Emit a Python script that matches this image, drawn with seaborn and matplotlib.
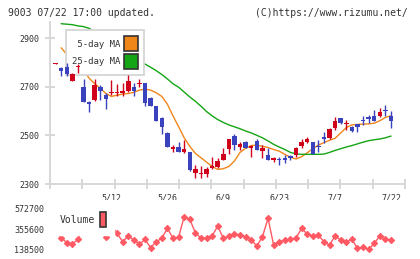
import matplotlib
matplotlib.use('Agg')
import matplotlib.pyplot as plt
from matplotlib.patches import Patch
import numpy as np
import pandas as pd
import seaborn as sns

sns.set_theme(style='white')
plt.rcParams['font.family'] = ['DejaVu Sans Mono', 'DejaVu Sans']

# trading days shown on the chart
dates = ['4/23', '4/24', '4/25', '4/28', '4/30', '5/1', '5/2', '5/7', '5/8', '5/9',
         '5/12', '5/13', '5/14', '5/15', '5/16', '5/19', '5/20', '5/21', '5/22', '5/23',
         '5/26', '5/27', '5/28', '5/29', '5/30', '6/2', '6/3', '6/4', '6/5', '6/6',
         '6/9', '6/10', '6/11', '6/12', '6/13', '6/16', '6/17', '6/18', '6/19', '6/20',
         '6/23', '6/24', '6/25', '6/26', '6/27', '6/30', '7/1', '7/2', '7/3', '7/4',
         '7/7', '7/8', '7/9', '7/10', '7/11', '7/14', '7/15', '7/16', '7/17', '7/18',
         '7/22']
tick_labels = ['5/12', '5/26', '6/9', '6/23', '7/7', '7/22']

opens = [2794, 2776, 2782, 2725, 2780, 2700, 2638, 2645, 2700, 2666,
         2673, 2673, 2674, 2682, 2700, 2710, 2714, 2652, 2621, 2573,
         2511, 2445, 2451, 2433, 2431, 2347, 2343, 2340, 2365, 2369,
         2399, 2443, 2497, 2454, 2474, 2448, 2478, 2435, 2420, 2398,
         2404, 2408, 2415, 2420, 2458, 2473, 2473, 2456, 2495, 2491,
         2532, 2570, 2546, 2533, 2546, 2561, 2574, 2580, 2580, 2602,
         2580]
highs = [2797, 2782, 2799, 2756, 2793, 2730, 2640, 2730, 2707, 2673,
         2727, 2710, 2714, 2748, 2714, 2730, 2716, 2659, 2622, 2576,
         2512, 2461, 2474, 2481, 2433, 2380, 2374, 2371, 2413, 2406,
         2447, 2485, 2506, 2474, 2476, 2461, 2485, 2461, 2449, 2410,
         2410, 2420, 2420, 2453, 2485, 2495, 2474, 2481, 2515, 2530,
         2577, 2572, 2563, 2537, 2546, 2580, 2582, 2604, 2611, 2625,
         2600]
lows = [2794, 2745, 2745, 2722, 2755, 2636, 2597, 2643, 2645, 2608,
        2665, 2660, 2662, 2680, 2660, 2697, 2621, 2620, 2558, 2506,
        2452, 2433, 2431, 2429, 2354, 2324, 2324, 2328, 2361, 2365,
        2399, 2424, 2440, 2440, 2446, 2410, 2438, 2406, 2397, 2392,
        2380, 2388, 2400, 2410, 2447, 2468, 2424, 2433, 2467, 2485,
        2522, 2548, 2522, 2515, 2515, 2543, 2550, 2557, 2576, 2580,
        2532]
closes = [2797, 2766, 2751, 2752, 2785, 2639, 2630, 2707, 2684, 2648,
          2679, 2680, 2681, 2723, 2684, 2714, 2632, 2622, 2560, 2536,
          2454, 2451, 2433, 2443, 2358, 2361, 2345, 2360, 2374, 2396,
          2424, 2485, 2462, 2465, 2448, 2455, 2440, 2446, 2399, 2408,
          2398, 2398, 2408, 2447, 2473, 2486, 2424, 2451, 2486, 2526,
          2560, 2552, 2548, 2519, 2536, 2559, 2566, 2560, 2597, 2600,
          2560]

ma5 = [np.nan, 2860, 2833, 2810, 2790, 2765, 2735, 2712, 2693, 2672,
       2660, 2665, 2670, 2672, 2677, 2686, 2690, 2686, 2675, 2660,
       2628, 2580, 2536, 2490, 2455, 2426, 2408, 2390, 2372, 2360,
       2363, 2372, 2395, 2430, 2447, 2458, 2460, 2455, 2450, 2442,
       2435, 2422, 2410, 2403, 2412, 2428, 2445, 2460, 2470, 2480,
       2488, 2510, 2532, 2543, 2545, 2546, 2547, 2550, 2560, 2574,
       2580]
ma25 = [np.nan, 2959, 2957, 2955, 2950, 2947, 2940, 2925, 2910, 2893,
        2875, 2860, 2845, 2830, 2818, 2805, 2793, 2780, 2766, 2750,
        2732, 2712, 2698, 2678, 2658, 2640, 2620, 2598, 2580, 2565,
        2553, 2543, 2535, 2527, 2518, 2510, 2500, 2490, 2477, 2463,
        2452, 2442, 2430, 2424, 2422, 2422, 2422, 2422, 2423, 2430,
        2438, 2445, 2452, 2458, 2465, 2472, 2478, 2482, 2485, 2490,
        2497]

volume = [330000, 268000, 213000, 199000, 249000, 380000, 420000, 390000, 350000, 272000,
          400000, 313000, 224000, 285000, 242000, 196000, 249000, 160000, 224000, 260000,
          367000, 260000, 271000, 491000, 463000, 320000, 260000, 260000, 285000, 391000,
          260000, 285000, 306000, 295000, 277000, 242000, 178000, 277000, 473000, 189000,
          224000, 242000, 249000, 260000, 367000, 306000, 285000, 295000, 224000, 189000,
          285000, 242000, 224000, 249000, 153000, 164000, 143000, 207000, 285000, 249000,
          242000]

RED = '#d0021b'
BLUE = '#3a43bd'
ORANGE = '#f0861a'
GREEN = '#14a514'
VOLC = '#ff5a64'
GRID = '#d6d6d6'
TXT = '#333333'

df = pd.DataFrame({'date': dates, 'open': opens, 'high': highs, 'low': lows,
                   'close': closes, 'ma5': ma5, 'ma25': ma25, 'volume': volume})
df['i'] = np.arange(len(df))
up = df['close'] >= df['open']
colors = np.where(up, RED, BLUE)

W, H = 420, 259
fig = plt.figure(figsize=(W / 100, H / 100), dpi=100)
ax = fig.add_axes([50 / W, (H - 184) / H, 355 / W, 162 / H])
axv = fig.add_axes([50 / W, (H - 256) / H, 355 / W, 56 / H])

# moving averages
sns.lineplot(data=df, x='i', y='ma5', color=ORANGE, lw=1, ax=ax, zorder=2)
sns.lineplot(data=df, x='i', y='ma25', color=GREEN, lw=1, ax=ax, zorder=2)

# candles
ax.vlines(df['i'], df['low'], df['high'], colors=colors, lw=1, zorder=6)
body = (df['close'] - df['open']).abs().clip(lower=4)
ax.bar(df['i'], body, bottom=np.minimum(df['open'], df['close']),
       width=0.8, color=colors, lw=0, zorder=7)

ax.set_xlim(-1, 62.5)
ax.set_ylim(2300, 2966)
ax.set_yticks([2300, 2500, 2700, 2900])
ax.set_xticks([dates.index(t) for t in tick_labels])
ax.set_xticklabels(tick_labels)
ax.set_xticks(np.linspace(-1, 62.5, 12), minor=True)
ax.set_xlabel('')
ax.set_ylabel('')
for s in ['top', 'right']:
    ax.spines[s].set_visible(False)
for s in ['left', 'bottom']:
    ax.spines[s].set_color(GRID)
    ax.spines[s].set_linewidth(1.3)
ax.tick_params(axis='y', direction='inout', length=7, width=1.3, color=GRID,
               pad=4, labelsize=6, labelcolor=TXT, left=True)
ax.tick_params(axis='x', which='major', length=0, pad=7, labelsize=6, labelcolor=TXT)
ax.tick_params(axis='x', which='minor', direction='inout', length=7, width=1.3,
               color=GRID, bottom=True)

leg = ax.legend(handles=[Patch(facecolor=ORANGE, edgecolor='#333333', lw=1.2, label=' 5-day MA'),
                         Patch(facecolor=GREEN, edgecolor='#333333', lw=1.2, label='25-day MA')],
                loc='upper left', bbox_to_anchor=(65.7 / W, 1 - 30 / H),
                bbox_transform=fig.transFigure, borderaxespad=0, markerfirst=False,
                fontsize=6.5, handlelength=1.5, handleheight=2.18, handletextpad=0.4,
                labelspacing=0.25, borderpad=0.7, fancybox=False, framealpha=1,
                edgecolor=GRID, facecolor='white')
leg.get_frame().set_linewidth(1.3)
leg.set_zorder(4)
for t in leg.get_texts():
    t.set_color(TXT)

# volume
sns.lineplot(data=df, x='i', y='volume', color=VOLC, lw=1, marker='D', markersize=3.2,
             markeredgecolor=VOLC, ax=axv, zorder=2)
axv.set_xlim(-1, 62.5)
axv.set_ylim(71300, 668700)
axv.set_yticks([138500, 355600, 572700])
axv.set_yticklabels(['138500', '355600', '572700'])
axv.set_xticks([])
axv.set_xlabel('')
axv.set_ylabel('')
for s in axv.spines.values():
    s.set_visible(False)
axv.tick_params(axis='y', length=0, pad=4, labelsize=6, labelcolor=TXT)
vleg = axv.legend(handles=[Patch(facecolor=VOLC, edgecolor='#333333', lw=1.2, label='Volume')],
                  loc='upper left', bbox_to_anchor=(52 / W, 1 - 205 / H),
                  bbox_transform=fig.transFigure, borderaxespad=0, markerfirst=False,
                  fontsize=7, handlelength=0.6, handleheight=2.0, handletextpad=0.6,
                  borderpad=0.75, fancybox=False, framealpha=1,
                  edgecolor='white', facecolor='white')
vleg.set_zorder(4)
for t in vleg.get_texts():
    t.set_color(TXT)

fig.text(8 / W, 1 - 13 / H, '9003 07/22 17:00 updated.', fontsize=7, color=TXT, va='center')
fig.text(408 / W, 1 - 13 / H, '(C)https://www.rizumu.net/', fontsize=7, color=TXT,
         va='center', ha='right')

fig.savefig('out.png', dpi=100, facecolor='white')
